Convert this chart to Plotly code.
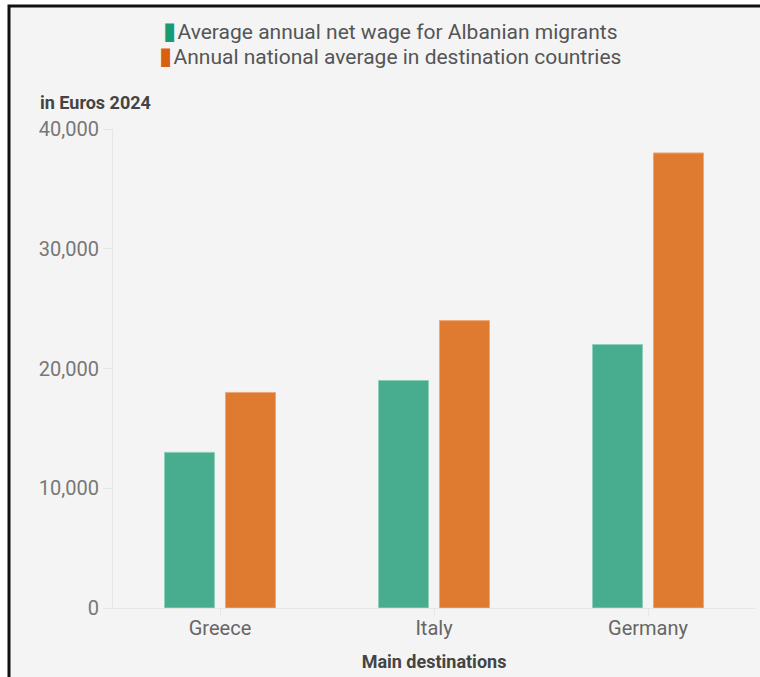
import plotly.graph_objects as go

# Data
destinations = ["Greece", "Italy", "Germany"]
migrant_wage = [13000, 19000, 22000]
national_average = [18000, 24000, 38000]
series_names = [
    "Average annual net wage for Albanian migrants",
    "Annual national average in destination countries",
]
y_ticks = [0, 10000, 20000, 30000, 40000]

W, H = 760, 677
L, R, T, B = 113, 5, 129, 69
PW, PH = W - L - R, H - T - B

def px_x(p):
    return (p - L) / PW

def px_y(p):
    return (H - B - p) / PH

FONT = "Roboto"
GREEN_BAR, GREEN_KEY = "#48ad8e", "#1a9a72"
ORANGE_BAR, ORANGE_KEY = "#df7a31", "#d9600f"

fig = go.Figure()
fig.add_trace(go.Bar(
    x=destinations, y=migrant_wage, name=series_names[0],
    marker=dict(color=GREEN_BAR, line=dict(color="#8fd0bb", width=1)),
    showlegend=False,
))
fig.add_trace(go.Bar(
    x=destinations, y=national_average, name=series_names[1],
    marker=dict(color=ORANGE_BAR, line=dict(color="#eda879", width=1)),
    showlegend=False,
))

# Legend lines, centred above the chart
legend_lines = [
    (series_names[0], GREEN_KEY, 31),
    (series_names[1], ORANGE_KEY, 56),
]
annotations = []
for text, color, ypix in legend_lines:
    annotations.append(dict(
        text=(f"<span style='color:{color};font-size:24px'>▮</span>"
              f"<span style='font-size:6px'> </span>{text}"),
        x=px_x(390), y=px_y(ypix), xref="paper", yref="paper",
        xanchor="center", yanchor="middle", showarrow=False,
        font=dict(family=FONT, size=21, color="#555555"),
    ))

annotations.append(dict(
    text="<b>in Euros 2024</b>", x=px_x(38), y=px_y(102),
    xref="paper", yref="paper", xanchor="left", yanchor="middle",
    showarrow=False, font=dict(family=FONT, size=18, color="#444444"),
))

fig.update_layout(
    width=W, height=H,
    margin=dict(l=L, r=R, t=T, b=B),
    paper_bgcolor="white",
    plot_bgcolor="rgba(0,0,0,0)",
    barmode="group",
    bargap=0.43,
    bargroupgap=0.18,
    font=dict(family=FONT, color="#666666"),
    annotations=annotations,
    shapes=[dict(
        type="rect", xref="paper", yref="paper", layer="below",
        x0=px_x(9), x1=px_x(820), y0=px_y(720), y1=px_y(6),
        fillcolor="#f4f4f4", line=dict(color="#111111", width=3),
    )],
)

fig.update_xaxes(
    showline=True, linecolor="#e6e6e6", linewidth=1,
    ticks="outside", ticklen=8, tickcolor="#e6e6e6",
    ticklabelstandoff=-6,
    tickfont=dict(family=FONT, size=20, color="#666666"),
    showgrid=False, zeroline=False,
    title=dict(text="<b>Main destinations</b>", standoff=16,
               font=dict(family=FONT, size=18, color="#444444")),
)
fig.update_yaxes(
    range=[0, 40000], tickvals=y_ticks, tickformat=",",
    showline=True, linecolor="#e6e6e6", linewidth=1,
    ticks="outside", ticklen=9, tickcolor="#e6e6e6",
    tickfont=dict(family=FONT, size=20, color="#777777"),
    showgrid=False, zeroline=False,
)

fig.write_html("out.html")
